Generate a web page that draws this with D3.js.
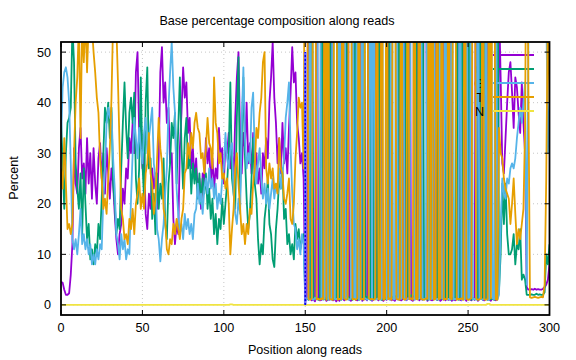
<!DOCTYPE html>
<html>
<head>
<meta charset="utf-8">
<script src="https://cdn.jsdelivr.net/npm/d3@7"></script>
<style>
  body { margin: 0; background: #fff; }
  svg { display: block; font-family: "Liberation Sans", Arial, sans-serif; }
</style>
</head>
<body>
<svg id="chart" width="576" height="360"></svg>
<script>
// percent of each base at read positions 0..300
var aPct = [
  4.5, 4.4, 3, 2, 2, 2.3, 6, 12, 31, 24,
  22, 31, 35, 25, 28, 22, 33, 24, 30, 21,
  31, 24, 20, 29, 32, 25, 30, 22, 31, 26,
  21, 27, 24, 18, 13, 10, 14, 16, 23, 20,
  27, 25, 33, 30, 36, 30, 46, 50, 34, 37,
  27, 30, 18, 15, 22, 19, 27, 23, 26, 19,
  29, 46, 51, 40, 44, 36, 39, 28, 30, 17,
  12, 16, 14, 31, 38, 47, 41, 44, 34, 37,
  27, 31, 25, 29, 22, 25, 19, 26, 24, 33,
  28, 31, 24, 29, 23, 27, 25, 35, 29, 31,
  24, 32, 30, 34, 27, 30, 25, 37, 45, 50,
  33, 26, 34, 31, 40, 28, 32, 26, 34, 27,
  30, 24, 27, 22, 30, 27, 33, 29, 40, 45,
  52, 41, 36, 28, 33, 26, 36, 28, 31, 26,
  35, 42, 51, 44, 46, 36, 33, 28, 30, 25,
  0.8, 1.2, 95, 1.5, 0.9, 1.1, 0.7, 96, 1.3, 0.9,
  1.0, 94, 1.4, 0.8, 1.2, 1.0, 95, 0.9, 1.3, 0.7,
  1.1, 0.8, 96, 1.2, 0.9, 1.4, 94, 1.0, 0.8, 1.2,
  95, 1.0, 0.9, 1.3, 96, 0.8, 1.1, 1.2, 0.9, 94,
  1.3, 0.8, 1.0, 95, 1.2, 0.9, 96, 1.1, 0.8, 1.3,
  1.0, 94, 1.2, 0.9, 1.1, 0.8, 1.3, 95, 1.0, 0.9,
  1.2, 96, 0.9, 1.1, 95, 1.0, 0.8, 1.2, 1.1, 94,
  0.9, 1.3, 1.0, 95, 96, 0.8, 1.2, 1.0, 0.9, 1.1,
  95, 1.0, 1.2, 0.8, 1.1, 94, 0.9, 1.3, 1.0, 96,
  0.8, 1.1, 0.9, 1.2, 95, 1.0, 0.9, 94, 1.2, 0.8,
  96, 1.1, 0.9, 1.3, 1.0, 95, 0.8, 1.2, 94, 1.0,
  0.9, 1.2, 95, 1.0, 0.8, 1.3, 1.1, 0.9, 1.2,
  60, 45, 28, 26, 33, 40, 46, 48, 42, 35,
  45, 43, 38, 34, 44, 36, 30, 3.5, 3, 3,
  3.1, 3, 3.2, 3, 3.1, 3, 3, 3.2, 3.5, 4,
  5, 8
];
var cPct = [
  37, 28, 19, 30, 36, 37, 39, 55, 48, 28,
  23, 19, 26, 14, 27, 20, 13, 16, 9, 11,
  8, 12, 10, 16, 13, 21, 30, 39, 36, 40,
  33, 39, 24, 20, 14, 17, 15, 27, 36, 44,
  35, 29, 38, 41, 36, 42, 25, 20, 27, 45,
  28, 21, 40, 47, 27, 29, 17, 22, 14, 26,
  19, 24, 21, 29, 16, 13, 24, 28, 36, 33,
  38, 24, 35, 45, 31, 23, 33, 37, 27, 30,
  22, 28, 24, 27, 21, 26, 20, 25, 22, 26,
  19, 23, 17, 21, 14, 18, 12, 17, 15, 21,
  16, 20, 24, 30, 44, 25, 22, 19, 37, 49,
  22, 33, 45, 29, 21, 15, 18, 25, 33, 24,
  21, 13, 8, 12, 10, 17, 20, 25, 16, 14,
  9, 7.5, 15, 19, 25, 23, 27, 17, 19, 12,
  14, 10, 12, 9, 16, 13, 15, 11, 13, 14,
  1.5, 1.2, 1.0, 1.4, 95, 1.1, 1.3, 1.6, 1.0, 1.2,
  96, 1.3, 1.1, 1.5, 1.0, 94, 1.2, 1.4, 1.1, 1.3,
  95, 1.2, 1.0, 1.4, 1.3, 96, 1.1, 1.5, 1.2, 1.0,
  1.3, 94, 1.2, 1.0, 1.4, 1.1, 95, 1.3, 1.6, 1.2,
  1.0, 96, 1.3, 1.1, 1.2, 95, 1.4, 1.0, 1.3, 1.1,
  1.5, 1.2, 94, 1.3, 1.6, 1.8, 1.5, 1.7, 95, 1.6,
  1.8, 1.5, 96, 1.7, 1.6, 1.9, 1.7, 1.5, 94, 1.3,
  1.2, 1.4, 95, 1.1, 1.3, 1.0, 1.2, 96, 1.4, 1.1,
  1.3, 1.0, 94, 1.2, 1.5, 1.1, 1.3, 95, 1.2, 1.0,
  1.4, 1.1, 1.3, 96, 1.0, 1.2, 94, 1.1, 1.3, 1.5,
  1.2, 95, 1.0, 1.4, 1.1, 1.3, 1.0, 96, 1.2, 1.1,
  94, 1.3, 1.0, 1.2, 1.1, 1.4, 1.0, 1.2, 95,
  3, 10, 24, 16, 24, 14, 10, 10, 11, 14,
  8, 12, 11, 15, 5, 6, 5, 2, 2, 2,
  2.1, 2, 2, 2.2, 2, 2.1, 2, 2, 2.5, 10,
  8, 12
];
var gPct = [
  32, 43, 46, 47, 45, 40, 28, 13, 11, 13,
  10, 14, 19, 12, 14, 11, 13, 10, 12, 8,
  10, 8, 11, 9, 12, 11, 21, 27, 36, 39,
  37, 38, 29, 23, 14, 12, 9, 14, 11, 13,
  9, 11, 10, 21, 30, 37, 33, 29, 35, 31,
  28, 34, 37, 30, 33, 36, 39, 28, 25, 15,
  13, 8.6, 13, 16, 22, 27, 39, 46, 52, 43,
  38, 23, 18, 14, 16, 13, 18, 15, 17, 14,
  16, 13, 18, 19, 24, 20, 22, 18, 23, 25,
  22, 27, 23, 25, 21, 24, 19, 22, 20, 25,
  27, 34, 29, 27, 31, 32, 22, 18, 16, 21,
  18, 36, 47, 33, 27, 30, 28, 39, 42, 30,
  24, 28, 31, 25, 21, 24, 20, 23, 19, 22,
  25, 21, 24, 22, 27, 23, 26, 29, 37, 40,
  44, 31, 22, 16, 15, 11, 13, 10, 14, 12,
  1.0, 1.3, 1.1, 96, 1.2, 1.0, 1.4, 1.1, 95, 94,
  1.2, 1.0, 1.3, 95, 1.1, 1.4, 1.0, 96, 1.2, 1.1,
  1.3, 94, 1.0, 1.2, 95, 1.1, 1.4, 1.0, 1.2, 96,
  1.1, 1.3, 95, 1.0, 1.2, 94, 1.1, 1.3, 1.0, 1.2,
  96, 1.0, 95, 1.2, 1.1, 1.3, 1.0, 1.2, 94, 95,
  1.1, 1.3, 1.0, 96, 1.2, 1.1, 95, 1.0, 1.3, 1.2,
  94, 1.1, 1.0, 1.3, 1.2, 95, 96, 1.0, 1.2, 1.1,
  1.3, 95, 1.0, 1.2, 1.1, 94, 1.0, 1.3, 1.2, 96,
  1.1, 1.2, 1.0, 95, 1.3, 1.1, 94, 1.0, 1.2, 1.1,
  96, 1.0, 1.2, 1.1, 1.3, 95, 1.0, 1.2, 1.1, 94,
  1.0, 1.3, 95, 1.1, 1.2, 1.0, 96, 1.1, 1.3, 1.0,
  1.2, 94, 1.1, 1.0, 95, 1.3, 1.1, 96, 1.0,
  2, 15, 25, 22, 21, 25, 24, 27, 28, 27,
  29, 33, 36, 39, 36, 40, 44, 4, 50, 92,
  93, 92, 93, 94, 93, 92, 93, 94, 90, 60,
  30, 40
];
var tPct = [
  27, 23, 33, 24, 15, 16, 14, 16, 30, 40,
  45, 56, 33, 56, 48, 57, 46, 56, 58, 55,
  50, 46, 41, 38, 29, 25, 19, 21, 18, 25,
  31, 41, 56, 58, 55, 44, 31, 19, 17, 13,
  14, 12, 17, 15, 19, 14, 20, 22, 25, 19,
  22, 19, 26, 28, 34, 26, 24, 18, 21, 29,
  37, 31, 28, 19, 17, 11, 10, 13, 12, 16,
  14, 17, 15, 13, 17, 19, 26, 27, 32, 29,
  34, 31, 36, 38, 35, 34, 29, 30, 26, 31,
  37, 32, 31, 27, 45, 36, 34, 28, 30, 25,
  26, 23, 25, 20, 10, 15, 19, 27, 30, 24,
  19, 14, 16, 12, 16, 14, 19, 18, 24, 27,
  35, 33, 38, 41, 48, 50, 27, 24, 28, 25,
  27, 23, 24, 22, 33, 27, 26, 21, 20, 22,
  25, 17, 16, 20, 29, 34, 41, 39, 40, 27,
  95, 96, 1.2, 1.0, 1.3, 94, 95, 1.1, 1.2, 1.0,
  1.3, 1.1, 96, 1.0, 95, 1.2, 1.1, 1.0, 94, 96,
  1.0, 1.2, 1.1, 95, 1.3, 1.0, 1.2, 96, 94, 1.1,
  1.2, 1.0, 1.3, 95, 1.1, 1.2, 1.0, 94, 96, 1.3,
  1.1, 1.2, 1.0, 1.3, 95, 1.1, 1.2, 96, 1.0, 1.2,
  94, 1.1, 1.3, 1.0, 95, 96, 1.2, 1.1, 1.0, 94,
  1.3, 1.0, 1.2, 95, 1.1, 1.3, 1.0, 96, 1.2, 1.1,
  95, 1.2, 1.1, 1.0, 1.3, 1.2, 94, 1.1, 95, 1.0,
  1.2, 96, 1.1, 1.3, 95, 1.0, 1.2, 1.1, 94, 1.3,
  1.1, 95, 96, 1.0, 1.2, 1.1, 1.3, 1.0, 95, 1.2,
  1.0, 1.1, 1.3, 94, 96, 1.2, 1.0, 1.1, 1.3, 95,
  1.1, 1.0, 1.2, 96, 1.3, 95, 94, 1.1, 1.0,
  35, 30, 29, 25, 23, 22, 21, 16, 20, 25,
  18, 12, 15, 13, 16, 19, 35, 90, 45, 1.5,
  1.4, 1.5, 1.6, 1.5, 1.4, 1.5, 1.6, 1.5, 4, 25,
  60, 40
];
var nPct = [
  0, 0, 0, 0, 0, 0, 0, 0, 0, 0, 0, 0, 0, 0, 0, 0, 0, 0, 0, 0, 0, 0, 0, 0, 0,
  0, 0, 0, 0, 0, 0, 0, 0, 0, 0, 0, 0, 0, 0, 0, 0, 0, 0, 0, 0, 0, 0, 0, 0, 0,
  0, 0, 0, 0, 0, 0, 0, 0, 0, 0, 0, 0, 0, 0, 0, 0, 0, 0, 0, 0, 0, 0, 0, 0, 0,
  0, 0, 0, 0, 0, 0, 0, 0, 0, 0, 0, 0, 0, 0, 0, 0, 0, 0, 0, 0, 0, 0, 0, 0, 0,
  0, 0, 0, 0, 0.1, 0.1, 0, 0, 0, 0, 0, 0, 0, 0, 0, 0, 0, 0, 0, 0, 0, 0, 0, 0, 0,
  0, 0, 0, 0, 0, 0, 0, 0, 0, 0, 0, 0, 0, 0, 0, 0, 0, 0, 0, 0, 0, 0, 0, 0, 0,
  0, 0, 0, 0, 0, 0, 0, 0, 0, 0, 0, 0, 0, 0, 0, 0, 0, 0, 0, 0, 0, 0, 0, 0, 0,
  0, 0, 0, 0, 0, 0, 0, 0, 0, 0, 0, 0, 0, 0, 0, 0, 0, 0, 0, 0, 0, 0, 0, 0, 0,
  0, 0, 0, 0, 0, 0, 0, 0, 0, 0, 0, 0, 0, 0, 0, 0, 0, 0, 0, 0, 0, 0, 0, 0, 0,
  0, 0, 0, 0, 0, 0, 0, 0, 0, 0, 0, 0, 0, 0, 0, 0, 0, 0, 0, 0, 0, 0, 0, 0, 0,
  0, 0, 0, 0, 0, 0, 0, 0, 0, 0, 0, 0, 0.2, 0.2, 0, 0, 0, 0, 0, 0, 0, 0, 0, 0, 0,
  0, 0, 0, 0, 0, 0, 0, 0, 0, 0, 0, 0, 0, 0, 0, 0, 0, 0, 0, 0, 0, 0, 0, 0, 0,
  0
];

var baseNames = ["A", "C", "G", "T", "N"];
var baseColors = ["#9400d3", "#009e73", "#56b4e9", "#e69f00", "#f0e442"];
var xTicks = [0, 50, 100, 150, 200, 250, 300];
var yTicks = [0, 10, 20, 30, 40, 50];
var readSplit = 150;   // blue marker between read 1 and read 2

var svg = d3.select("#chart");
var pLeft = 61, pRight = 549.5, pTop = 42, pBottom = 315;

var x = d3.scaleLinear().domain([0, 300]).range([pLeft, pRight]);
var y = d3.scaleLinear().domain([-2, 52]).range([pBottom, pTop]);

svg.append("defs").append("clipPath")
    .attr("id", "plotclip")
  .append("rect")
    .attr("x", pLeft).attr("y", pTop)
    .attr("width", pRight - pLeft).attr("height", pBottom - pTop);

// grid
var grid = svg.append("g")
    .attr("stroke", "#b8b8b8")
    .attr("stroke-width", 0.8)
    .attr("stroke-dasharray", "1,3");
grid.selectAll(".gy").data(yTicks).enter().append("line")
    .attr("x1", pLeft).attr("x2", pRight)
    .attr("y1", d => y(d)).attr("y2", d => y(d));
grid.selectAll(".gx").data(xTicks.slice(1, -1)).enter().append("line")
    .attr("x1", d => x(d)).attr("x2", d => x(d))
    .attr("y1", pTop).attr("y2", pBottom);

// series, each with its key entry drawn just before its data
var line = d3.line()
    .x(function(d, i) { return x(i); })
    .y(function(d) { return y(d); });

var series = [aPct, cPct, gPct, tPct, nPct];
var plot = svg.append("g");
series.forEach(function(vals, k) {
    var ky = 55 + k * 14;
    plot.append("text")
        .attr("x", 484).attr("y", ky + 4.5)
        .attr("text-anchor", "end")
        .attr("font-size", "12.6px")
        .attr("fill", "#000")
        .text(baseNames[k]);
    plot.append("line")
        .attr("x1", 493).attr("x2", 534)
        .attr("y1", ky).attr("y2", ky)
        .attr("stroke", baseColors[k])
        .attr("stroke-width", 1.8);
    plot.append("path")
        .datum(vals)
        .attr("clip-path", "url(#plotclip)")
        .attr("fill", "none")
        .attr("stroke", baseColors[k])
        .attr("stroke-width", 1.8)
        .attr("stroke-linejoin", "round")
        .attr("d", line);
});

// read boundary marker
svg.append("line")
    .attr("x1", x(readSplit)).attr("x2", x(readSplit))
    .attr("y1", y(0)).attr("y2", y(50))
    .attr("stroke", "#6a6aff")
    .attr("stroke-width", 2.6);
svg.append("line")
    .attr("x1", x(readSplit)).attr("x2", x(readSplit))
    .attr("y1", y(0)).attr("y2", y(50))
    .attr("stroke", "#0000e0")
    .attr("stroke-width", 1.4)
    .attr("stroke-dasharray", "2,2");

// border and inward ticks on all sides
var frame = svg.append("g").attr("stroke", "#000").attr("stroke-width", 1);
yTicks.forEach(function(t) {
    frame.append("line").attr("x1", pLeft).attr("x2", pLeft + 5).attr("y1", y(t)).attr("y2", y(t));
    frame.append("line").attr("x1", pRight).attr("x2", pRight - 5).attr("y1", y(t)).attr("y2", y(t));
});
xTicks.forEach(function(t) {
    frame.append("line").attr("x1", x(t)).attr("x2", x(t)).attr("y1", pBottom).attr("y2", pBottom - 5);
    frame.append("line").attr("x1", x(t)).attr("x2", x(t)).attr("y1", pTop).attr("y2", pTop + 5);
});
svg.append("rect")
    .attr("x", pLeft).attr("y", pTop)
    .attr("width", pRight - pLeft).attr("height", pBottom - pTop)
    .attr("fill", "none")
    .attr("stroke", "#000")
    .attr("stroke-width", 1.8);

// tick labels
svg.append("g").selectAll("text").data(yTicks).enter().append("text")
    .attr("x", 51).attr("y", d => y(d) + 4.5)
    .attr("text-anchor", "end")
    .attr("font-size", "12.6px")
    .text(d => d);
svg.append("g").selectAll("text").data(xTicks).enter().append("text")
    .attr("x", d => x(d)).attr("y", 332)
    .attr("text-anchor", "middle")
    .attr("font-size", "12.6px")
    .text(d => d);

// titles
svg.append("text")
    .attr("x", 277).attr("y", 25)
    .attr("text-anchor", "middle")
    .attr("font-size", "12.6px")
    .text("Base percentage composition along reads");
svg.append("text")
    .attr("x", 305).attr("y", 354)
    .attr("text-anchor", "middle")
    .attr("font-size", "12.6px")
    .text("Position along reads");
svg.append("text")
    .attr("transform", "translate(18,178) rotate(-90)")
    .attr("text-anchor", "middle")
    .attr("font-size", "12.6px")
    .text("Percent");
</script>
</body>
</html>
